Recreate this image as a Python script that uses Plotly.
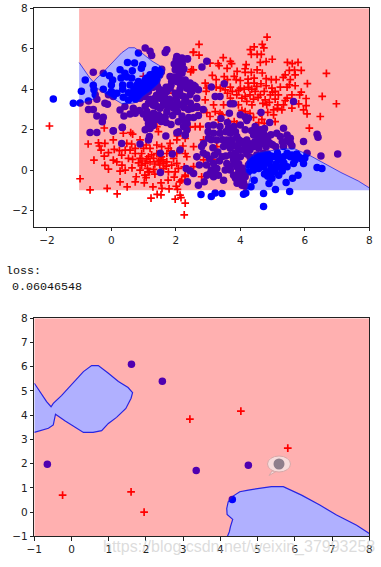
import plotly.graph_objects as go

# --- data ---
top_red = [(4.83,6.57),(2.72,6.22),(4.68,6.22),(4.73,6.04),(4.43,6.09),(4.31,5.96),(2.54,5.82),(2.72,5.68),(4.34,5.72),(4.52,5.72),(4.65,5.72),
(3.47,5.56),(4.99,5.48),(4.8,5.36),(4.62,5.33),(3.69,5.38),(3.73,5.26),(3.31,5.26),(3.34,5.16),(3.06,5.29),(5.46,5.33),(5.79,5.33),(5.61,5.26),
(4.18,5.21),(4.15,5.01),(3.59,5.03),(2.54,4.96),(2.46,4.86),(5.68,4.95),(5.52,4.93),(5.89,4.93),(6.67,4.78),(4.52,4.96),(4.34,4.83),(3.9,4.88),
(4.15,4.83),(4.68,4.8),(5.7,4.71),(5.39,4.71),(5.33,4.58),(3.13,4.68),(3.5,4.62),(3.25,4.47),(3.81,4.63),(3.87,4.47),(4.0,4.43),(4.24,4.5),
(4.43,4.55),(4.8,4.52),(4.96,4.47),(5.11,4.47),(3.6,4.47),(6.08,4.28),(5.55,4.47),(4.24,4.3),(4.43,4.3),(4.64,4.27),(5.52,4.22),(5.7,4.17),
(5.45,4.1),(2.91,4.3),(3.25,4.1),(3.38,4.05),(3.69,4.1),(3.75,3.89),(4.0,4.05),(4.12,4.0),(4.26,4.09),(4.51,4.14),(4.8,4.17),(4.98,4.05),
(5.24,4.1),(2.94,3.89),(3.53,3.97),(4.46,3.89),(4.74,3.89),(5.08,3.89),(5.89,3.85),(5.84,3.72),(6.54,3.64),(6.04,3.54),(3.89,3.72),(4.3,3.72),
(4.62,3.72),(4.93,3.72),(5.18,3.72),(5.6,3.72),(2.91,3.47),(3.69,3.56),(4.05,3.56),(4.41,3.51),(4.77,3.47),(5.08,3.51),(5.39,3.44),(5.45,3.56),
(5.81,3.27),(6.04,3.19),(3.17,3.22),(3.48,3.22),(3.94,3.22),(4.36,3.22),(4.82,3.22),(5.16,3.22),(5.34,3.22),(5.6,3.06),(5.96,2.98),(6.07,2.78),
(6.48,2.65),(2.96,2.84),(3.22,2.89),(3.43,2.73),(4.15,2.89),(4.62,2.81),(5.03,2.98),(5.29,2.98),(4.41,2.61),(4.67,2.51),(5.03,2.73),(3.32,2.48),
(3.63,2.4),(3.81,2.4),(3.89,2.28),(4.57,2.35),(4.74,2.31),(5.08,2.4),(2.6,2.15),(2.75,2.15),(6.14,2.07),(6.98,3.28),
(-0.97,-0.43),(-0.66,-0.98),(-0.13,-0.9),(0.18,-1.18),(0.49,-0.83),(1.23,-1.39),(1.42,-1.2),(1.54,-1.23),(1.29,-0.83),(1.57,-0.9),(1.79,-0.93),
(1.98,-1.44),(2.13,-1.24),(2.16,-1.36),(2.29,-1.63),(2.26,-2.22),(2.01,-0.8),(2.05,-0.95),(0.27,-0.58),(0.74,-0.58),(0.77,-0.33),(1.02,-0.63),
(1.08,-0.37),(1.54,-0.63),(1.76,-0.5),(1.95,-0.35),(1.14,-0.09),(1.04,-0.25),(2.29,-0.25),(2.13,-0.58),(-0.22,2.08),(-0.72,1.29),(-0.4,1.35),
(-0.2,1.32),(-0.37,1.19),(-0.32,0.99),(-0.22,0.69),(-0.09,0.86),(-0.54,0.49),(-0.2,0.23),(-0.09,0.05),(0.06,1.49),(0.09,1.02),(0.25,0.96),
(0.06,0.49),(0.17,0.41),(0.33,0.24),(0.27,-0.05),(0.43,0.0),(0.37,1.82),(0.6,1.85),(0.66,1.78),(0.48,1.32),(0.63,1.29),(0.43,0.99),(0.58,0.99),
(0.74,1.07),(0.32,0.74),(0.53,0.58),(0.66,0.53),(0.64,0.11),(0.89,0.58),(0.94,0.24),(0.89,0.0),(1.05,0.33),(1.12,0.08),(1.18,-0.09),(1.31,0.03),
(1.15,0.66),(1.31,0.58),(1.46,0.41),(1.62,0.33),(1.72,0.41),(1.87,0.24),(2.03,0.33),(2.08,0.08),(2.26,0.16),(2.39,0.0),(1.41,1.24),(1.56,1.16),
(1.82,1.32),(1.77,1.07),(2.03,1.49),(1.2,1.07),(1.0,1.07),(0.94,0.82),(1.41,0.82),(1.72,0.82),(2.03,0.82),(2.29,0.82),(1.51,0.49),(1.93,0.58),
(1.41,2.15),(1.46,1.9),(2.29,1.57),(2.05,1.69),(0.89,1.49),(1.08,1.24),(1.62,0.08),(1.77,-0.09),(1.98,-0.09),(1.2,0.41),(0.74,0.82),(0.84,0.36),
(2.55,5.83),(2.49,4.97),(2.96,4.06),(1.93,3.81),(2.39,3.31),(2.8,2.98),(3.06,2.65),(3.37,2.81),(2.44,2.12),(2.75,2.15),(2.55,1.16),(2.86,1.49),
(2.65,0.66),(2.55,0.17),(2.8,-0.33),(3.17,0.5),(3.27,1.16),(2.86,0.5),(2.34,0.66),(2.29,-0.33),(2.18,-0.5),(2.22,1.19),(0.99,4.64),(-1.92,2.18),
(3.95,3.95),(4.15,3.65),(4.55,3.6),(4.7,3.3),(4.9,3.35),(5.0,3.85),(4.2,3.4),(4.35,4.0),(3.6,3.8),(3.75,3.3),(4.05,2.95),(4.3,2.8),(4.85,2.85),(5.15,3.05),
(1.35,0.3),(1.55,0.65),(1.25,0.75),(1.6,0.5),(1.7,0.2),(1.35,-0.2),(1.5,0.25),(1.1,0.55),(0.95,0.45),(1.85,0.95)]

top_blue = [(-1.8,3.51),(-1.18,3.3),(-0.97,3.32),(-0.81,4.46),(-0.93,3.9),(-0.71,3.42),(-0.56,4.84),(-0.56,4.2),(-0.54,3.97),(-0.5,3.72),(-0.45,3.5),
(-0.25,4.79),(-0.06,4.66),(0.04,4.46),(0.0,4.21),(-0.25,4.0),(0.0,3.88),(-0.09,3.72),(0.17,3.8),(0.06,3.64),(0.5,5.32),(0.72,5.29),(0.97,5.21),
(0.93,5.04),(0.84,5.79),(0.65,4.91),(0.27,4.96),(0.42,4.79),(0.3,4.55),(0.48,4.6),(0.63,4.55),(0.35,4.21),(0.35,4.0),(0.58,4.21),(0.53,3.83),
(0.37,3.6),(0.53,3.47),(0.74,3.97),(0.79,3.72),(0.89,3.55),(0.84,4.38),(1.05,4.46),(1.2,4.71),(1.36,4.96),(1.43,4.71),(1.56,4.99),(1.41,4.46),
(1.25,4.21),(1.05,4.05),(1.15,3.88),(0.97,3.77),(1.05,3.64),(0.79,4.21),(0.94,4.21),(1.05,4.21),(1.2,4.38),(1.31,4.55),
(0.7,4.0),(0.85,4.05),(0.95,3.9),(1.1,4.3),(1.2,4.1),(1.3,4.3),(1.4,4.3),(1.5,4.7),(1.3,4.75),(1.1,4.55),(0.9,3.6),(0.75,3.5),(0.65,3.7),(0.85,3.75),(1.0,4.0),
(1.15,4.2),(1.3,4.1),(1.55,4.85),(0.95,4.1),(0.8,3.9),
(-0.2,3.3),(-0.12,3.25),(-0.71,3.0),(-0.56,3.0),(-0.45,2.68),(-0.25,2.61),(-0.28,2.39),(-0.66,1.86),(-0.45,1.86),(0.06,1.93),(0.34,2.11),(0.27,2.97),
(0.42,3.14),(0.39,2.68),(0.68,3.06),(0.58,2.77),(0.74,2.81),(0.87,2.94),(1.05,3.14),(0.99,2.77),(1.1,2.56),(1.15,2.31),(1.2,2.06),(1.25,3.39),
(1.41,3.14),(1.62,3.39),(1.82,3.3),(2.03,3.39),(2.24,3.3),(1.43,4.13),(1.51,3.97),(1.72,3.88),(1.82,4.05),(1.87,4.38),(1.82,4.63),(1.72,5.95),
(1.67,5.82),(1.2,5.87),(1.05,6.04),(1.25,5.66),(2.03,5.62),(2.19,5.54),(2.01,5.46),(2.08,5.32),(2.36,5.49),(1.98,4.96),(2.19,4.79),(2.29,4.46),
(2.13,4.46),(2.03,4.38),(2.44,4.3),(2.6,4.13),(2.7,3.97),(2.34,4.05),(2.13,4.0),(1.98,3.8),(2.24,3.64),(2.44,3.72),(2.65,3.55),(1.93,3.06),
(1.72,2.89),(1.51,3.06),(1.31,2.81),(1.46,2.72),(1.67,2.64),(2.19,2.68),(2.39,3.0),(2.65,3.14),(2.08,2.39),(2.24,2.15),(2.34,1.98),(2.03,1.85),(2.29,1.73),
(1.2,3.5),(1.35,3.55),(1.5,3.55),(1.65,3.6),(1.8,3.5),(1.35,3.3),(1.6,3.2),(1.75,3.15),(1.95,3.2),(2.1,3.2),(2.25,3.1),(2.0,3.55),(2.15,3.7),(2.3,3.5),(2.45,3.3),
(2.5,3.9),(2.55,4.2),(2.3,4.25),(2.15,4.2),(2.4,4.05),(1.1,2.9),(1.25,2.7),(1.3,2.45),(1.4,2.5),(1.55,2.4),(1.7,2.35),(1.85,2.25),(1.15,2.15),(1.05,2.0),(1.3,2.2),
(1.5,2.65),(1.9,2.7),(2.05,2.9),(2.4,2.6),(2.55,2.6),(2.7,2.7),(2.85,3.0),(2.5,3.05),(2.65,3.1),(2.2,2.5),(2.35,2.3),(1.85,4.2),(1.95,4.6),(2.1,4.75),(2.0,5.1),
(2.1,5.0),(2.2,5.25),(2.25,5.0),(1.95,5.25),(1.6,3.8),(1.4,3.7),(1.3,3.2),(1.15,3.3),(1.5,3.9),(1.7,4.1),
(5.65,3.39),(4.64,2.85),(4.91,2.35),(3.5,4.27),(3.1,4.11),(3.22,3.64),(3.37,3.64),(3.69,3.28),(3.79,3.28),(3.66,2.81),(4.0,2.73),(4.15,2.62),(4.25,2.57),
(2.81,5.1),(2.96,5.38),(2.36,5.5),(5.96,1.41),(6.38,1.77),(6.41,1.62),(7.02,0.79),(6.5,0.7),(6.07,0.83),(5.96,0.33),(6.53,0.08),(6.38,0.13),
(1.52,0.83),(1.52,-0.12),(1.89,0.79),(2.13,0.99),(0.89,1.29),(0.32,1.32),(0.34,2.12),(0.06,1.94),(1.18,1.66),(1.15,1.49),(1.69,1.69),(2.09,1.9),(2.29,1.74),
(2.65,0.66),(2.73,0.25),(2.32,0.08),(2.44,-0.03),(2.55,-0.17),(2.36,-0.58),(2.7,-0.75),(2.88,-0.58),(2.96,-0.25),(3.06,-0.17),(3.17,-0.33),(3.32,-0.25),
(3.48,-0.5),(3.27,0.08),(3.17,0.33),(2.96,0.74),(2.8,1.16),(2.86,1.32),(3.01,1.57),(3.17,1.82),(3.01,2.19),(3.17,2.23),(3.37,2.15),(3.27,1.49),(3.37,1.82),
(3.63,2.07),(3.69,1.82),(3.79,2.15),(3.58,1.49),(3.74,1.49),(3.89,1.66),(3.48,1.16),(3.69,1.08),(3.89,1.16),(4.05,1.41),(4.2,1.49),(3.43,0.66),(3.58,0.33),
(3.79,0.5),(4.0,0.66),(4.1,0.99),(4.25,1.16),(3.69,0.0),(3.79,-0.25),(3.94,-0.5),(4.05,-0.75),(4.15,-0.33),(3.53,0.0),(3.89,0.17),(4.0,2.23),(4.15,1.99),
(4.46,2.15),(4.62,1.99),(4.72,1.82),(4.82,1.66),(4.41,1.74),(4.57,1.49),(4.72,1.32),(4.93,1.32),(5.13,1.82),(5.34,2.07),(5.45,1.74),(5.55,1.57),(5.24,1.66),
(5.34,1.16),(4.41,1.16),(4.57,1.08),
(3.0,1.9),(3.1,1.5),(3.15,1.1),(3.3,0.9),(3.45,1.5),(3.55,1.9),(3.6,1.25),(3.75,1.25),(3.85,1.9),(3.95,1.5),(3.95,1.3),(4.0,1.0),(3.85,0.85),(3.7,0.75),(3.55,0.7),
(3.9,0.6),(3.8,0.3),(3.65,0.2),(3.95,0.3),(4.05,0.1),(3.95,-0.1),(4.1,-0.05),(3.85,-0.4),(4.0,-0.3),(3.9,-0.65),(4.1,-0.6),(4.15,-0.8),(3.2,-0.05),(3.1,0.0),
(2.95,0.25),(3.05,0.55),(2.85,0.85),(3.35,0.45),(3.2,0.75),(4.2,0.8),(4.3,1.0),(4.15,1.2),(4.3,1.3),(4.45,1.4),(4.55,1.75),(4.35,1.95),(4.5,1.95),(4.7,1.6),
(4.85,1.5),(5.0,1.25),(5.1,1.15),(4.6,1.25),(4.8,1.15),(5.3,1.4),(5.45,1.45),(5.55,1.35),(5.6,1.2),(4.95,1.75),(4.75,2.05),(4.2,2.45),(3.6,2.35),(3.4,2.55),
(2.78,-1.21),(3.1,-1.31),(3.22,-1.13),(3.43,-1.16),(4.1,-1.19),(4.17,-1.13),(4.72,-1.16),(4.72,-1.8),(5.53,-1.06),(5.09,-0.96),(4.33,-0.83),(4.43,-0.5),
(4.89,-0.66),(4.98,-0.41),(5.42,-0.61),(5.62,-0.41),(5.79,-0.25),(4.82,-0.08),(4.41,0.0),(4.25,0.25),(4.36,0.5),(4.51,0.33),(4.67,0.5),(4.82,0.58),(5.03,0.66),
(5.19,0.5),(5.34,0.66),(5.45,0.83),(5.55,0.66),(5.7,0.5),(5.81,0.66),(5.24,0.17),(5.08,0.0),(4.93,-0.17),(5.19,-0.25),(5.45,0.17),(5.65,0.33),(4.57,0.08),
(4.25,-0.08),(4.72,0.17),(4.51,0.75),(4.72,0.83),
(4.3,0.35),(4.4,0.2),(4.5,0.15),(4.6,0.25),(4.55,0.5),(4.65,0.35),(4.8,0.35),(4.9,0.45),(4.95,0.7),(5.1,0.3),(5.15,0.85),(4.85,0.8),(4.95,0.15),(5.05,-0.1),
(4.85,-0.3),(4.75,-0.2),(5.35,0.35),(5.6,0.75),(5.75,0.8),(5.9,0.55),(6.0,0.6),(5.3,-0.05),(4.3,0.65),(4.6,0.7),(5.2,0.65)]

bottom_red = [(3.18,3.84),(4.55,4.17),(5.81,2.64),(-0.24,0.7),(1.6,0.83),(1.95,0.0)]
bottom_blue = [(1.61,6.1),(2.44,5.4),(-0.65,1.97),(3.35,1.72),(4.75,1.93),(4.32,0.52)]

# decision boundary
fish = [(-1,5.32),(-0.85,4.97),(-0.67,4.56),(-0.55,4.35),(-0.49,4.49),(-0.27,4.81),(0,5.25),(0.32,5.8),(0.54,6.05),(0.72,6.05),(0.99,5.73),(1.26,5.39),
(1.52,5.14),(1.64,4.93),(1.6,4.7),(1.52,4.49),(1.46,4.28),(1.21,3.91),(0.99,3.66),(0.81,3.36),(0.58,3.29),(0.32,3.29),(0.09,3.5),(-0.18,3.77),(-0.43,4.04),
(-0.46,3.8),(-0.49,3.6),(-0.62,3.46),(-0.8,3.39),(-1,3.29)]
wedge = [(8,-0.88),(7.66,-0.54),(7.12,-0.12),(6.67,0.29),(6.18,0.7),(5.69,1.05),(5.37,1.05),(5.15,1.01),(4.75,0.91),(4.52,0.84),(4.34,0.66),(4.21,0.43),
(4.17,0.15),(4.18,-0.1),(4.33,-0.3),(4.27,-0.6),(4.24,-0.81),(4.19,-1)]
region_lo, region_hi = -1, 8

tick_top_x = [-2, 0, 2, 4, 6, 8]
tick_top_y = [-2, 0, 2, 4, 6, 8]
tick_bot = list(range(-1, 9))

loss_label = "loss:"
loss_value = "0.06046548"
watermark = "https://blog.csdn.net/weixin_37993258"

W, H = 381, 567
def xs(p): return [a for a, _ in p]
def ys(p): return [b for _, b in p]
def px(v): return v / W
def py(v): return 1 - v / H

BLUE, RED = "#0000ff", "#ff0000"
RED_A, BLUE_A = "rgba(255,0,0,0.31)", "rgba(0,0,255,0.31)"
LINE = "rgba(20,20,225,0.9)"

red_ring = [(region_lo, region_hi), (region_hi, region_hi)] + wedge + [(region_lo, region_lo)] + fish[::-1] + [(region_lo, region_hi)]
blue_fish = fish + [fish[0]]
blue_wedge = wedge + [(region_hi, region_lo), wedge[0]]

fig = go.Figure()
def panel(red, blue, xa, ya, rsize, bsize, lw):
    fig.add_trace(go.Scatter(x=xs(red), y=ys(red), xaxis=xa, yaxis=ya, mode="markers",
        marker=dict(symbol="cross-thin", size=rsize, line=dict(color=RED, width=1.7))))
    fig.add_trace(go.Scatter(x=xs(blue), y=ys(blue), xaxis=xa, yaxis=ya, mode="markers",
        marker=dict(symbol="circle", size=bsize, color=BLUE, line=dict(width=0))))
    for poly, col in ((red_ring, RED_A), (blue_fish, BLUE_A), (blue_wedge, BLUE_A)):
        fig.add_trace(go.Scatter(x=xs(poly), y=ys(poly), xaxis=xa, yaxis=ya, mode="none", fill="toself", fillcolor=col, hoverinfo="skip"))
    for poly in (fish, wedge):
        fig.add_trace(go.Scatter(x=xs(poly), y=ys(poly), xaxis=xa, yaxis=ya, mode="lines", line=dict(color=LINE, width=lw), hoverinfo="skip"))

panel(top_red, top_blue, "x", "y", 5.5, 7.5, 0.8)
panel(bottom_red, bottom_blue, "x2", "y2", 5.5, 7.5, 1.2)

ax = dict(showgrid=False, zeroline=False, showline=True, linecolor="#222", linewidth=1, mirror=True,
          ticks="outside", ticklen=3.5, tickwidth=1, tickcolor="#222", automargin=False,
          tickfont=dict(family="DejaVu Sans", size=10.5, color="#222"), tickmode="array")
fig.update_layout(
    width=W, height=H, margin=dict(l=0, r=0, t=0, b=0, pad=0, autoexpand=False), paper_bgcolor="white", plot_bgcolor="white", showlegend=False,
    xaxis=dict(ax, domain=[px(34.3), px(369.3)], range=[-2.39, 8], tickvals=tick_top_x, anchor="y"),
    yaxis=dict(ax, domain=[py(226.7), py(8.3)], range=[-2.8, 8], tickvals=tick_top_y, anchor="x"),
    xaxis2=dict(ax, domain=[px(34.3), px(369.3)], range=[-1, 8], tickvals=tick_bot, anchor="y2"),
    yaxis2=dict(ax, domain=[py(536.3), py(318.3)], range=[-1, 8], tickvals=tick_bot, anchor="x2"),
    annotations=[
        dict(text=loss_label, x=px(4), y=py(271), xref="paper", yref="paper", xanchor="left", yanchor="middle", showarrow=False,
             font=dict(family="Liberation Mono", size=11.7, color="#111")),
        dict(text=loss_value, x=px(10), y=py(287), xref="paper", yref="paper", xanchor="left", yanchor="middle", showarrow=False,
             font=dict(family="Liberation Mono", size=11.7, color="#111")),
        dict(text=watermark, x=px(101), y=py(547), xref="paper", yref="paper", xanchor="left", yanchor="middle", showarrow=False,
             font=dict(family="Liberation Sans", size=16, color="rgba(205,205,205,0.7)")),
    ],
    shapes=[
        dict(type="path", xref="paper", yref="paper", layer="above",
             path=f"M {px(272)} {py(471)} L {px(269)} {py(475.5)} L {px(276)} {py(471.5)} Z",
             fillcolor="#f6dcdc", line=dict(color="#d8a8a8", width=1)),
        dict(type="circle", xref="paper", yref="paper", layer="above", x0=px(267.5), x1=px(290.5), y0=py(472), y1=py(456),
             fillcolor="#f6dcdc", line=dict(color="#d8a8a8", width=1)),
        dict(type="circle", xref="paper", yref="paper", layer="above", x0=px(273.5), x1=px(284.5), y0=py(469.5), y1=py(458.5),
             fillcolor="#8f7f8c", line=dict(width=0)),
    ],
)

fig.write_html("out.html", config=dict(displayModeBar=False),
               post_script="document.body.style.margin='0';document.documentElement.style.overflow='hidden';")
